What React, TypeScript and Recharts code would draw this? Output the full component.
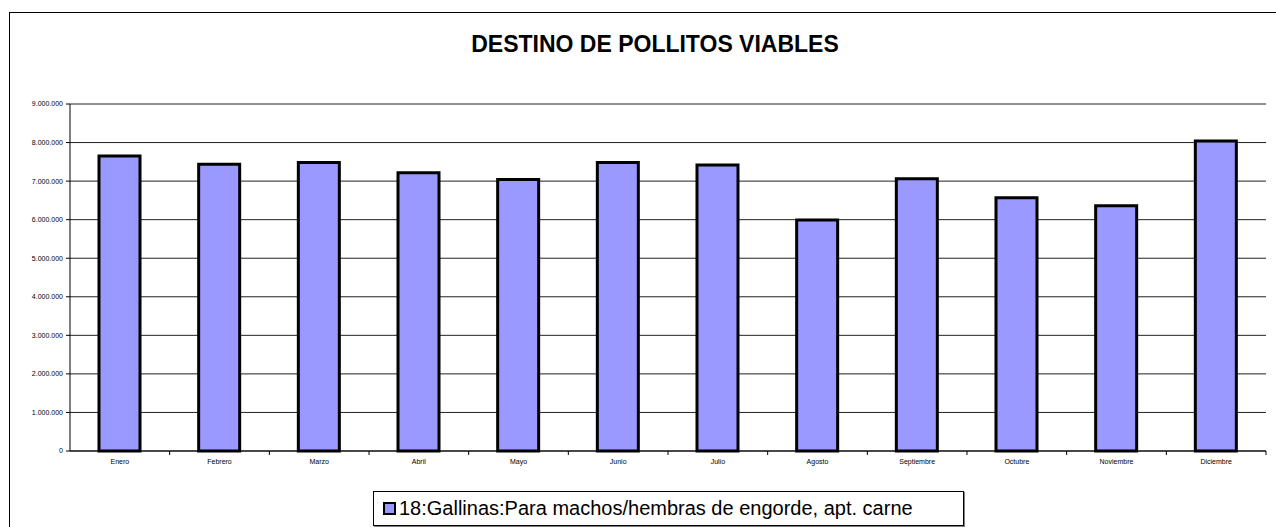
import React from "react";
import { Bar, BarChart, CartesianGrid, XAxis, YAxis } from "recharts";

const months = [
  "Enero",
  "Febrero",
  "Marzo",
  "Abril",
  "Mayo",
  "Junio",
  "Julio",
  "Agosto",
  "Septiembre",
  "Octubre",
  "Noviembre",
  "Diciembre",
];

const pollitos = [
  7650000, 7440000, 7480000, 7220000, 7040000, 7480000, 7420000, 5990000,
  7060000, 6570000, 6360000, 8040000,
];

const yTicks = [
  0, 1000000, 2000000, 3000000, 4000000, 5000000, 6000000, 7000000, 8000000,
  9000000,
];

const seriesName = "18:Gallinas:Para machos/hembras de engorde, apt. carne";

const data = months.map((mes, i) => ({ mes, valor: pollitos[i] }));

const W = 1276;
const H = 527;
const xAxisHeight = 30;
const margin = { top: 104, right: 10, left: 10, bottom: 76 - xAxisHeight };
const yAxisWidth = 60;
const plotWidth = W - margin.left - margin.right - yAxisWidth;
const step = plotWidth / months.length;

const font = "Arial, 'Liberation Sans', sans-serif";

function formatMiles(v: number) {
  return String(v).replace(/\B(?=(\d{3})+(?!\d))/g, ".");
}

interface TickProps {
  x?: number;
  y?: number;
  payload?: { value: string };
}

function MonthTick({ x = 0, y = 0, payload }: TickProps) {
  return (
    <g>
      <line x1={x + step / 2} x2={x + step / 2} y1={y} y2={y + 4} stroke="#000" />
      <text
        x={x}
        y={y + 13}
        textAnchor="middle"
        fontSize={7}
        fontFamily={font}
        fill="#000"
      >
        {payload?.value}
      </text>
    </g>
  );
}

function LegendBox() {
  return (
    <div
      style={{
        position: "absolute",
        left: 373,
        top: 491,
        boxSizing: "border-box",
        width: 591,
        height: 35,
        border: "1px solid #000",
        boxShadow: "1px 1px 0 #808080",
        background: "#fff",
        display: "flex",
        alignItems: "center",
        fontFamily: font,
        fontSize: 20,
        color: "#000",
        paddingLeft: 9,
      }}
    >
      <span
        style={{
          display: "inline-block",
          boxSizing: "border-box",
          width: 13,
          height: 13,
          background: "#9999FF",
          border: "2px solid #000",
          marginRight: 3,
        }}
      />
      {seriesName}
    </div>
  );
}

export default function App() {
  return (
    <div
      style={{
        position: "absolute",
        left: 0,
        top: 0,
        width: W,
        height: H,
        background: "#fff",
        overflow: "hidden",
      }}
    >
      <div
        style={{
          position: "absolute",
          left: 9,
          top: 12,
          width: W,
          height: H,
          borderLeft: "1px solid #000",
          borderTop: "1px solid #000",
        }}
      />
      <div
        style={{
          position: "absolute",
          left: 405,
          top: 31,
          width: 500,
          textAlign: "center",
          fontFamily: font,
          fontWeight: "bold",
          fontSize: 23,
          color: "#000",
        }}
      >
        DESTINO DE POLLITOS VIABLES
      </div>
      <div style={{ position: "absolute", left: 0, top: 0 }}>
        <BarChart width={W} height={H} data={data} margin={margin} barSize={41}>
          <CartesianGrid
            yAxisId="left"
            vertical={false}
            stroke="#222"
            strokeWidth={1}
          />
          <XAxis
            dataKey="mes"
            yAxisId="left"
            axisLine={{ stroke: "#000" }}
            tickLine={false}
            tickSize={0}
            tickMargin={0}
            tick={<MonthTick />}
            interval={0}
            height={xAxisHeight}
          />
          <YAxis
            yAxisId="left"
            domain={[0, 9000000]}
            ticks={yTicks}
            tickFormatter={formatMiles}
            width={yAxisWidth}
            axisLine={{ stroke: "#000" }}
            tickLine={{ stroke: "#000" }}
            tickSize={4}
            tickMargin={3}
            tick={{ fontSize: 7, fill: "#000", fontFamily: font }}
            interval={0}
          />
          <YAxis
            yAxisId="right"
            orientation="right"
            domain={[0, 9000000]}
            width={0}
            tick={false}
            tickLine={false}
            axisLine={{ stroke: "#808080", strokeWidth: 2 }}
          />
          <Bar
            yAxisId="left"
            dataKey="valor"
            name={seriesName}
            fill="#9999FF"
            stroke="#000"
            strokeWidth={3}
            isAnimationActive={false}
          />
        </BarChart>
      </div>
      <LegendBox />
    </div>
  );
}
